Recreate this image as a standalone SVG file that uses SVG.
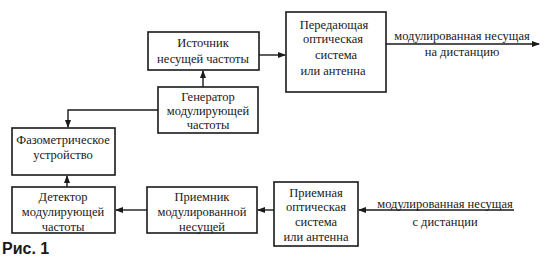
<svg xmlns="http://www.w3.org/2000/svg" width="550" height="262" viewBox="0 0 550 262">
<defs>
<marker id="ah" markerWidth="8" markerHeight="6" refX="7" refY="3" orient="auto" markerUnits="userSpaceOnUse">
<path d="M0,0 L8,3 L0,6 z" fill="#1a1a1a"/>
</marker>
</defs>
<style>
rect{fill:#fff;stroke:#1a1a1a;stroke-width:1.6}
text{font-family:"Liberation Serif","DejaVu Serif",serif;font-size:12.5px;fill:#1a1a1a;text-anchor:middle}
.c{fill:none;stroke:#1a1a1a;stroke-width:1.4}
.cap{font-family:"Liberation Sans","DejaVu Sans",sans-serif;font-weight:bold;font-size:16px;text-anchor:start}
</style>
<rect x="0" y="0" width="550" height="262" style="fill:#fff;stroke:none"/>
<g id="connectors">
<path class="c" d="M259,55 H285" marker-end="url(#ah)"/>
<path class="c" d="M386,44 H539" marker-end="url(#ah)"/>
<path class="c" d="M203,87 V71" marker-end="url(#ah)"/>
<path class="c" d="M158,110 H68 V127" marker-end="url(#ah)"/>
<path class="c" d="M67,187 V176" marker-end="url(#ah)"/>
<path class="c" d="M147,210 H116" marker-end="url(#ah)"/>
<path class="c" d="M274,210 H258" marker-end="url(#ah)"/>
<path class="c" d="M514,210 H359" marker-end="url(#ah)"/>
</g>
<g id="n1">
<rect x="148" y="32" width="111" height="38"/>
<text x="203" y="47">Источник</text>
<text x="203" y="63">несущей частоты</text>
</g>
<g id="n2">
<rect x="286" y="12" width="100" height="80"/>
<text x="334" y="29">Передающая</text>
<text x="333" y="43">оптическая</text>
<text x="336" y="59">система</text>
<text x="333" y="75">или антенна</text>
</g>
<g id="lbl-out">
<text x="462" y="40">модулированная несущая</text>
<text x="462" y="56">на дистанцию</text>
</g>
<g id="n3">
<rect x="158" y="87" width="100" height="46"/>
<text x="208" y="101">Генератор</text>
<text x="208" y="115">модулирующей</text>
<text x="208" y="129">частоты</text>
</g>
<g id="n4">
<rect x="12" y="128" width="103" height="47"/>
<text x="63" y="144">Фазометрическое</text>
<text x="63" y="159">устройство</text>
</g>
<g id="n5">
<rect x="12" y="187" width="103" height="46"/>
<text x="63" y="201">Детектор</text>
<text x="63" y="216">модулирующей</text>
<text x="63" y="231">частоты</text>
</g>
<g id="n6">
<rect x="147" y="187" width="110" height="46"/>
<text x="202" y="201">Приемник</text>
<text x="202" y="216">модулированной</text>
<text x="202" y="231">несущей</text>
</g>
<g id="n7">
<rect x="274" y="182" width="84" height="64"/>
<text x="316" y="197">Приемная</text>
<text x="316" y="211">оптическая</text>
<text x="316" y="226">система</text>
<text x="316" y="241">или антенна</text>
</g>
<g id="lbl-in">
<text x="445" y="208">модулированная несущая</text>
<text x="445" y="226">с дистанции</text>
</g>
<text class="cap" x="2" y="254">Рис. 1</text>
</svg>
